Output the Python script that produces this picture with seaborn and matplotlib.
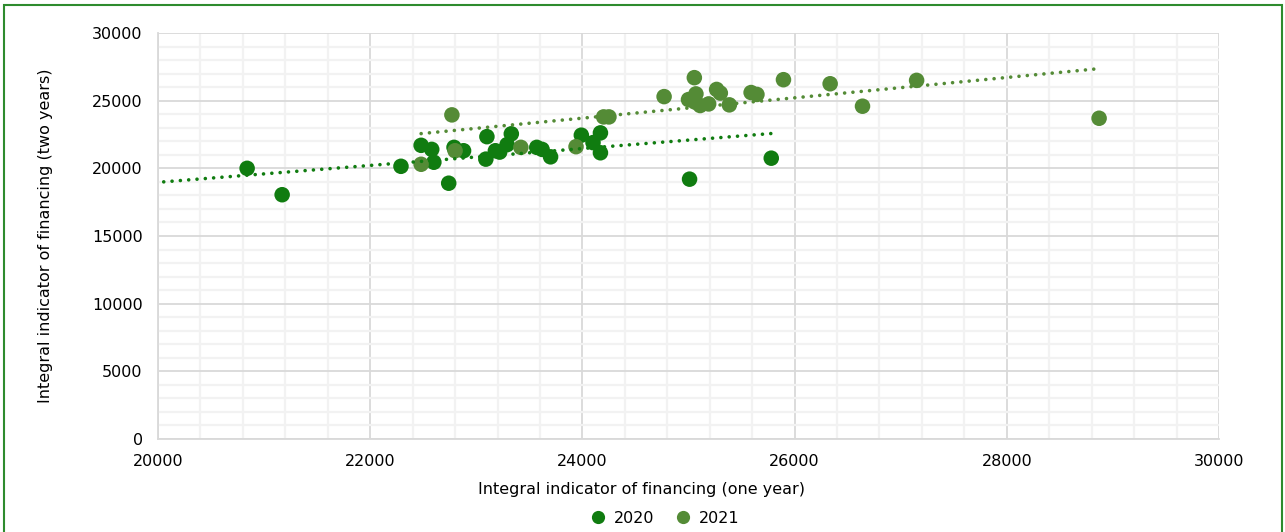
import numpy as np
import pandas as pd
import matplotlib
matplotlib.use("Agg")
import matplotlib.pyplot as plt
from matplotlib.patches import Rectangle
from matplotlib.ticker import MultipleLocator
import seaborn as sns

# Integral indicator of financing: one-year value (x) vs two-year value (y).
# The first 2020 entry lies left of the 20000 axis minimum and is clipped.
one_year_2020 = [18800, 20840, 21170, 22290, 22480, 22580, 22600, 22740, 22790,
                 22880, 23100, 23090, 23180, 23220, 23290, 23330, 23570, 23620,
                 23700, 23990, 24100, 24170, 24170, 25010, 25780]
two_year_2020 = [16700, 20000, 18050, 20150, 21700, 21400, 20450, 18900, 21550,
                 21300, 22340, 20680, 21300, 21200, 21750, 22550, 21550, 21400,
                 20850, 22450, 21900, 22620, 21150, 19200, 20750]

one_year_2021 = [22480, 22770, 22800, 23420, 23940, 24200, 24250, 24770, 25000,
                 25055, 25060, 25070, 25110, 25190, 25265, 25300, 25385, 25590,
                 25645, 25895, 26335, 26640, 27150, 28870]
two_year_2021 = [20300, 23950, 21300, 21550, 21600, 23800, 23800, 25300, 25080,
                 26700, 24900, 25500, 24640, 24760, 25830, 25560, 24690, 25600,
                 25460, 26550, 26250, 24590, 26500, 23700]

years = ["2020", "2021"]
colors = {"2020": "#107C10", "2021": "#548B36"}

df = pd.DataFrame({
    "one": one_year_2020 + one_year_2021,
    "two": two_year_2020 + two_year_2021,
    "year": [years[0]] * len(one_year_2020) + [years[1]] * len(one_year_2021),
})

sns.set_theme(style="white")
plt.rcParams["font.family"] = ["DejaVu Sans"]
plt.rcParams["text.color"] = "#000000"
plt.rcParams["axes.labelcolor"] = "#000000"

fig = plt.figure(figsize=(12.85, 5.32), dpi=100)
ax = fig.add_axes([158 / 1285, 1 - 439 / 532, (1219 - 158) / 1285, (439 - 33) / 532])

# grid
ax.xaxis.set_major_locator(MultipleLocator(2000))
ax.xaxis.set_minor_locator(MultipleLocator(400))
ax.yaxis.set_major_locator(MultipleLocator(5000))
ax.yaxis.set_minor_locator(MultipleLocator(1000))
ax.grid(which="minor", color="#F2F2F2", linewidth=1.6, zorder=0)
ax.grid(which="major", color="#D9D9D9", linewidth=1.3, zorder=0)
ax.set_axisbelow(True)

sns.scatterplot(data=df, x="one", y="two", hue="year", palette=colors,
                s=125, linewidth=0, alpha=1.0, ax=ax, zorder=3)

# linear trend lines over each series' full x range (clipped by the axes)
for yr, xs, ys in [("2020", one_year_2020, two_year_2020),
                   ("2021", one_year_2021, two_year_2021)]:
    k, b = np.polyfit(xs, ys, 1)
    xx = np.array([min(xs), max(xs)])
    ax.plot(xx, k * xx + b, color=colors[yr], linewidth=2.6,
            linestyle=(0, (0.01, 2.3)), dash_capstyle="round", zorder=4)

ax.set_xlim(20000, 30000)
ax.set_ylim(0, 30000)

for side in ["top", "right"]:
    ax.spines[side].set_visible(False)
for side in ["left", "bottom"]:
    ax.spines[side].set_color("#D9D9D9")
    ax.spines[side].set_linewidth(1.3)

ax.tick_params(axis="both", which="major", length=5, width=1.3, color="#D9D9D9",
               labelsize=11.5, labelcolor="#000000", pad=6)
ax.tick_params(axis="both", which="minor", length=0)

ax.set_xlabel("Integral indicator of financing (one year)", fontsize=11.5)
ax.xaxis.set_label_coords(0.456, -0.105)
ax.set_ylabel("Integral indicator of financing (two years)", fontsize=11.5, labelpad=28)

sns.move_legend(ax, "upper center", bbox_to_anchor=(0.474, -0.142), ncol=2,
                frameon=False, title=None, fontsize=11.5, handletextpad=0.0,
                columnspacing=0.8, markerscale=0.85)

# outer frame
fig.patches.append(Rectangle((4 / 1285, -0.05), (1282 - 4) / 1285, 1.05 - 5 / 532,
                             transform=fig.transFigure, fill=False,
                             edgecolor="#2E8B2E", linewidth=1.5, zorder=10))

fig.savefig("out.png", dpi=100)
